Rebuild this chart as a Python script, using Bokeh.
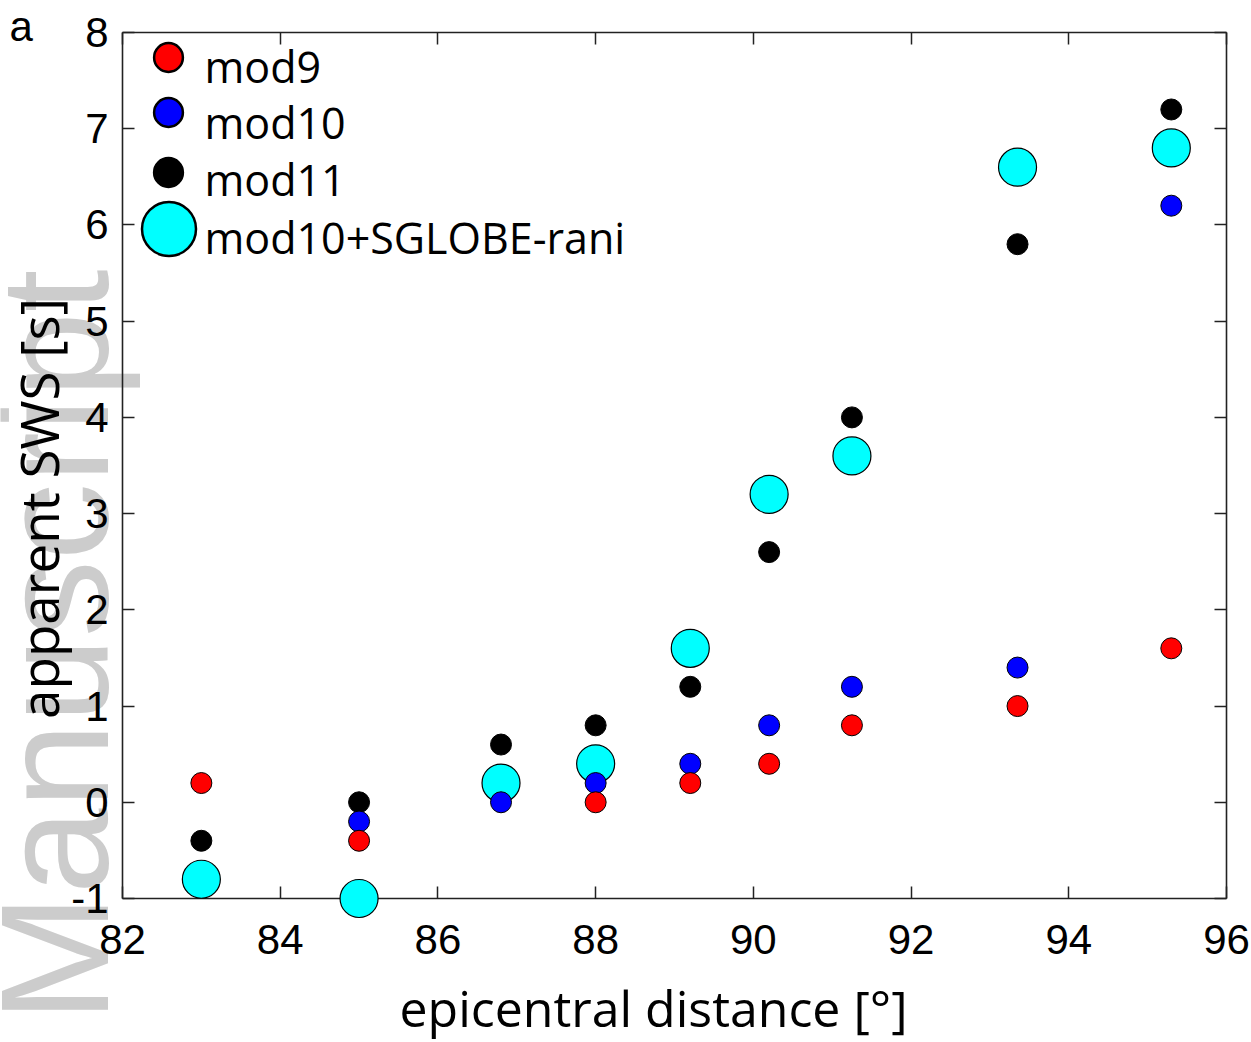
import math
import numpy as np
from bokeh.plotting import figure
from bokeh.models import (Range1d, FixedTicker, LinearAxis, Label, Legend,
                          LegendItem, ColumnDataSource, CustomLabelingPolicy)
from bokeh.embed import file_html
from bokeh.resources import INLINE

# ---------------- data ----------------
distance = [83.0, 85.0, 86.8, 88.0, 89.2, 90.2, 91.25, 93.35, 95.3]
nan = float("nan")
mod9 = [0.2, -0.4, nan, 0.0, 0.2, 0.4, 0.8, 1.0, 1.6]
mod10 = [nan, -0.2, 0.0, 0.2, 0.4, 0.8, 1.2, 1.4, 6.2]
mod11 = [-0.4, 0.0, 0.6, 0.8, 1.2, 2.6, 4.0, 5.8, 7.2]
mod10_sglobe = [-0.8, -1.0, 0.2, 0.4, 1.6, 3.2, 3.6, 6.6, 6.8]

series_names = ["mod9", "mod10", "mod11", "mod10+SGLOBE-rani"]

x_ticks = [82, 84, 86, 88, 90, 92, 94, 96]
x_tick_labels = ["82", "84", "86", "88", "90", "92", "94", "96"]
y_ticks = [-1, 0, 1, 2, 3, 4, 5, 6, 7, 8]
y_tick_labels = ["-1", "0", "1", "2", "3", "4", "5", "6", "7", "8"]

x_label = "epicentral distance [°]"
y_label = "apparent  SWS [s]"
panel_letter = "a"
watermark = "Manuscript"

# ---------------- layout (pixels) ----------------
W, H = 1251, 1042
BOX_L, BOX_R, BOX_T, BOX_B = 122, 1226, 32, 898   # plot box on the canvas
x0, x1 = x_ticks[0], x_ticks[-1]
y0, y1 = y_ticks[0], y_ticks[-1]
ppx = (BOX_R - BOX_L) / (x1 - x0)
ppy = (BOX_B - BOX_T) / (y1 - y0)

TXT = "Open Sans"
TICK_FONT = "Liberation Sans"
FRAME_COLOR = "#222222"
# measured shift between the requested and the drawn text baseline (fraction of font size)
BASE_FIX = {TXT: 0.395, TICK_FONT: 0.345}

# the frame covers the whole canvas so that nothing gets clipped;
# the plot box is drawn by axes fixed at the box edges
p = figure(width=W, height=H, output_backend="svg", toolbar_location=None,
           x_range=Range1d(x0 - BOX_L / ppx, x1 + (W - BOX_R) / ppx),
           y_range=Range1d(y0 - (H - BOX_B) / ppy, y1 + BOX_T / ppy),
           x_axis_location=None, y_axis_location=None,
           min_border=0, min_border_left=0, min_border_right=0,
           min_border_top=0, min_border_bottom=0)
p.grid.visible = False
p.outline_line_color = None
p.background_fill_color = "white"
p.border_fill_color = "white"

no_labels = CustomLabelingPolicy(
    code="const n = indices.size; for (let i = 0; i < n; i++) indices.unset(i); return indices")


def make_axis(ticks, labels, loc, bounds, show_labels):
    ax = LinearAxis(ticker=FixedTicker(ticks=ticks), fixed_location=loc, bounds=bounds)
    ax.major_label_overrides = {t: l for t, l in zip(ticks, labels)}
    ax.axis_line_color = FRAME_COLOR
    ax.axis_line_width = 1.6
    ax.major_tick_in = 12
    ax.major_tick_out = 0
    ax.major_tick_line_color = FRAME_COLOR
    ax.major_tick_line_width = 1.5
    ax.minor_tick_line_color = None
    ax.level = "underlay"
    ax.major_label_text_font = TICK_FONT
    ax.major_label_text_font_size = "42px"
    ax.major_label_text_color = "black"
    if not show_labels:
        ax.major_label_policy = no_labels
    return ax


xb = make_axis(x_ticks, x_tick_labels, y0, (x0, x1), True)
xb.major_label_standoff = 26
yl = make_axis(y_ticks, y_tick_labels, x0, (y0, y1), True)
yl.major_label_standoff = 14
xt = make_axis(x_ticks, x_tick_labels, y1, (x0, x1), False)
yr = make_axis(y_ticks, y_tick_labels, x1, (y0, y1), False)
p.add_layout(xb, "below")
p.add_layout(yl, "left")
p.add_layout(xt, "above")
p.add_layout(yr, "right")


def text_label(text, cx, cy, size, font, align="left", vertical=False, color="black",
               level="annotation"):
    """Place a text with its baseline at canvas pixel (cx, cy)."""
    fix = BASE_FIX[font] * size
    if vertical:
        sx, sy, angle = cx - fix, H - cy, math.pi / 2
    else:
        sx, sy, angle = cx, H - cy + fix, 0.0
    return Label(x=sx, y=sy, x_units="screen", y_units="screen", text=text,
                 angle=angle, text_align=align, text_baseline="alphabetic",
                 text_font=font, text_font_size=f"{size}px", text_color=color,
                 level=level)


# watermark (lowest level)
p.add_layout(text_label(watermark, 108, 1022, 154, TICK_FONT, vertical=True,
                        color="#cccccc", level="image"))

# ---------------- data markers ----------------
src = ColumnDataSource(data=dict(
    x=np.array(distance, dtype=float),
    mod9=np.array(mod9, dtype=float),
    mod10=np.array(mod10, dtype=float),
    mod11=np.array(mod11, dtype=float),
    sglobe=np.array(mod10_sglobe, dtype=float),
))

p.scatter("x", "sglobe", source=src, marker="circle", size=38,
          fill_color="#00ffff", line_color="black", line_width=1.2)
p.scatter("x", "mod11", source=src, marker="circle", size=21,
          fill_color="black", line_color="black", line_width=1)
p.scatter("x", "mod10", source=src, marker="circle", size=21,
          fill_color="#0000ff", line_color="black", line_width=1)
p.scatter("x", "mod9", source=src, marker="circle", size=21,
          fill_color="#ff0000", line_color="black", line_width=1)

# ---------------- legend ----------------
legend_specs = [
    # name, fill, marker size, marker centre (canvas px), text baseline (canvas px)
    (series_names[0], "#ff0000", 29, (168, 57), 83),
    (series_names[1], "#0000ff", 29, (168, 112), 139),
    (series_names[2], "black", 29, (168, 172), 196),
    (series_names[3], "#00ffff", 54, (168, 228), 254),
]
label_left = 204
nan_src = dict(x=np.array([nan]), y=np.array([nan]))
for name, fill, size, (cx, cy), base in legend_specs:
    proxy = p.scatter(x="x", y="y", source=ColumnDataSource(data=dict(nan_src)),
                      marker="circle", size=size, fill_color=fill,
                      line_color="black", line_width=2.5)
    G = int(round(size / 0.4))
    leg = Legend(items=[LegendItem(label=" ", renderers=[proxy])],
                 location=(cx - G / 2, H - (cy + G / 2)),
                 glyph_width=G, glyph_height=G, label_height=10,
                 label_standoff=0, padding=0, margin=0, spacing=0,
                 border_line_color=None, background_fill_alpha=0,
                 label_text_font_size="8px")
    p.add_layout(leg)
    p.add_layout(text_label(name, label_left, base, 43, TXT))

# ---------------- axis titles & panel letter ----------------
p.add_layout(text_label(x_label, 653, 1027, 50, TXT, align="center"))
p.add_layout(text_label(y_label, 59, 501, 53, TXT, align="center", vertical=True))
p.add_layout(text_label(panel_letter, 9, 40, 42, TICK_FONT))

open("out.html", "w").write(file_html(p, INLINE))
